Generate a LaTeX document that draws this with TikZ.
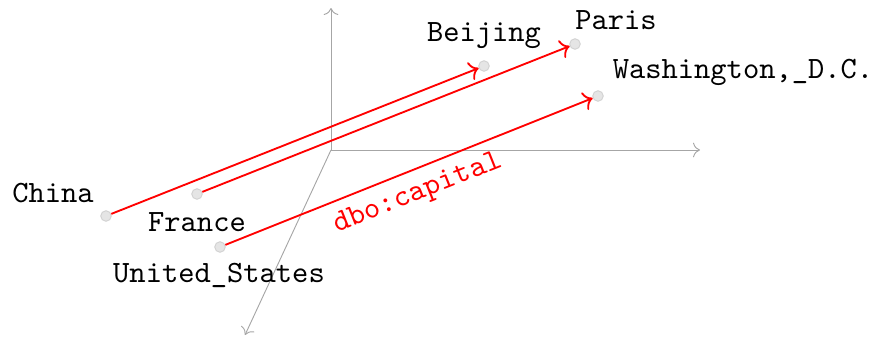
\documentclass[tikz,border=0pt]{standalone}
\usetikzlibrary{arrows.meta}
\begin{document}
\begin{tikzpicture}[x=0.3226pt, y=-0.3226pt,
  axis/.style={draw=gray!70, line width=0.3pt, ->},
  ent/.style={circle, fill=gray!20, draw=gray!35, line width=0.3pt, minimum size=3.4pt, inner sep=0pt},
  lbl/.style={font=\ttfamily, inner sep=0pt},
  rel/.style={draw=red, line width=0.6pt, ->}]
\useasboundingbox (0,0) rectangle (873,337);
\coordinate (o) at (331,150);
\coordinate (ax1) at (331,8);
\coordinate (ax2) at (700,150);
\coordinate (ax3) at (245,335);
\draw[axis] (o) -- (ax1);
\draw[axis] (o) -- (ax2);
\draw[axis] (o) -- (ax3);

\node[ent] (china) at (106,216) {};
\node[ent] (france) at (197,194) {};
\node[ent] (us) at (220,247) {};
\node[ent] (beijing) at (484,66) {};
\node[ent] (paris) at (575,44) {};
\node[ent] (wash) at (598,96) {};

\node[lbl] (lchina) at (53,193) {China};
\node[lbl] (lfrance) at (197,222) {France};
\node[lbl] (lus) at (219,275) {United\_States};
\node[lbl] (lbeijing) at (484,36) {Beijing};
\node[lbl] (lparis) at (616,20) {Paris};
\node[lbl] (lwash) at (743,72) {Washington,\_D.C.};

\draw[rel] (china) -- (beijing);
\draw[rel] (france) -- (paris);
\draw[rel] (us) -- node[midway, below, sloped, font=\ttfamily, text=red] (lcap) {dbo:capital} (wash);
\end{tikzpicture}
\end{document}
